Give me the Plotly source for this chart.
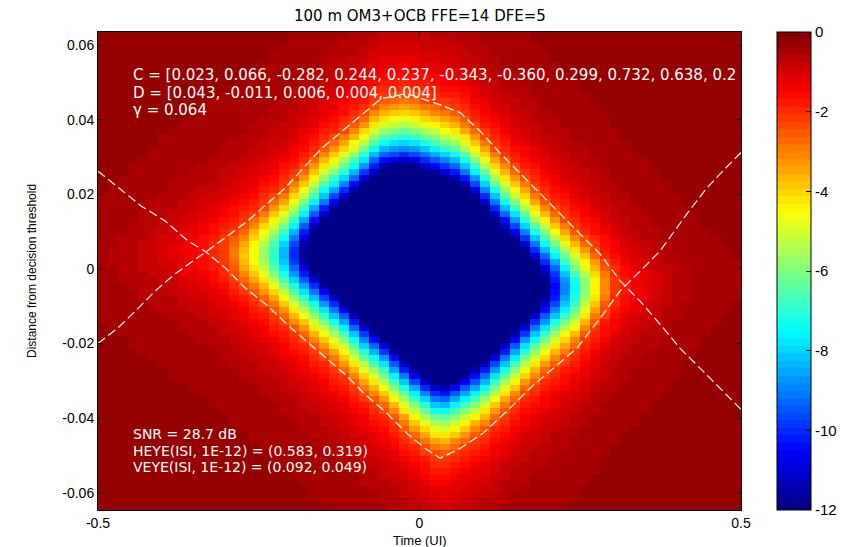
import math
import numpy as np
import plotly.graph_objects as go

# ---- data ----
# upper eye boundary (ISI-only), dashed white curve
u_t = [-0.5, -0.469, -0.442, -0.411, -0.380, -0.352, -0.324, -0.267, -0.209, -0.153, -0.100, -0.060,
       -0.020, 0.027, 0.063, 0.094, 0.125, 0.156, 0.183, 0.214, 0.245, 0.281, 0.312, 0.343, 0.374,
       0.405, 0.441, 0.467, 0.5]
u_y = [-0.0200, -0.0158, -0.0113, -0.0059, -0.0013, 0.0021, 0.0056, 0.0129, 0.0217, 0.0322, 0.0397, 0.0456,
       0.0470, 0.0443, 0.0419, 0.0370, 0.0311, 0.0258, 0.0209, 0.0156, 0.0102, 0.0040, -0.0032, -0.0086, -0.0148,
       -0.0212, -0.0274, -0.0319, -0.0376]
# lower eye boundary (ISI-only), dashed white curve
l_t = [-0.5, -0.453, -0.433, -0.396, -0.360, -0.334, -0.302, -0.271, -0.236, -0.200, -0.153, -0.116, -0.085,
       -0.054, -0.018, 0.009, 0.032, 0.063, 0.099, 0.136, 0.172, 0.208, 0.245, 0.281, 0.312, 0.354, 0.374,
       0.416, 0.447, 0.472, 0.5]
l_y = [0.0262, 0.0196, 0.0169, 0.0129, 0.0075, 0.0048, 0.0003, -0.0051, -0.0099, -0.0158, -0.0228, -0.0282, -0.0336,
       -0.0381, -0.0443, -0.0481, -0.0507, -0.0481, -0.0440, -0.0381, -0.0319, -0.0266, -0.0212, -0.0132, -0.0059,
       0.0013, 0.0048, 0.0148, 0.0217, 0.0263, 0.0312]

noise_sigma = 0.0043      # vertical noise spread inside the eye
edge_offset = 2.6         # Q-argument on the ISI boundary
outer_scale = 0.012       # decay length outside the boundary
tip_soft = 0.006          # soft-min width joining upper/lower boundaries
log_ber_floor = -12
log_ber_ceiling = 0

x_ticks = [-0.5, 0, 0.5]
x_ticktext = ["-0.5", "0", "0.5"]
y_ticks = [-0.06, -0.04, -0.02, 0, 0.02, 0.04, 0.06]
y_ticktext = ["-0.06", "-0.04", "-0.02", "0", "0.02", "0.04", "0.06"]
cb_ticks = [0, -2, -4, -6, -8, -10, -12]
cb_ticktext = ["0", "-2", "-4", "-6", "-8", "-10", "-12"]

title_text = "100 m OM3+OCB FFE=14 DFE=5"
top_lines = ["C = [0.023, 0.066, -0.282, 0.244, 0.237, -0.343, -0.360, 0.299, 0.732, 0.638, 0.2",
             "D = [0.043, -0.011, 0.006, 0.004, 0.004]",
             "\u03b3 = 0.064"]
bottom_lines = ["SNR = 28.7 dB",
                "HEYE(ISI, 1E-12) = (0.583, 0.319)",
                "VEYE(ISI, 1E-12) = (0.092, 0.049)"]

# ---- statistical eye field from the boundaries ----
y_lo, y_hi = -0.0646, 0.0635
nx, ny = 64, 80
tc = -0.5 + (np.arange(nx) + 0.5) / nx
yc = y_lo + (np.arange(ny) + 0.5) * (y_hi - y_lo) / ny
T, Y = np.meshgrid(tc, yc)

erfc_v = np.vectorize(math.erfc)


def log_tail(d):
    x = edge_offset + np.maximum(d, 0) / noise_sigma
    q = np.maximum(0.5 * erfc_v(x / math.sqrt(2)), 1e-300)
    inside = np.log10(q)
    g0 = math.log10(0.5 * math.erfc(edge_offset / math.sqrt(2)))
    outside = g0 + (-0.3 - g0) * (1 - np.exp(np.minimum(d, 0) / outer_scale))
    return np.where(d >= 0, inside, outside)


dU = np.interp(T, u_t, u_y) - Y
dL = Y - np.interp(T, l_t, l_y)
d_eff = -tip_soft * np.logaddexp(-dU / tip_soft, -dL / tip_soft)
Z = np.clip(log_tail(d_eff), log_ber_floor, log_ber_ceiling)


# discrete 64-level jet colormap
def jet(v):
    r = min(max(1.5 - abs(4 * v - 3), 0), 1)
    g = min(max(1.5 - abs(4 * v - 2), 0), 1)
    b = min(max(1.5 - abs(4 * v - 1), 0), 1)
    return "rgb(%d,%d,%d)" % (round(r * 255), round(g * 255), round(b * 255))


nlev = 64
cscale = []
for i in range(nlev):
    c = jet((i + 0.5) / nlev)
    cscale.append([i / nlev, c])
    cscale.append([(i + 1) / nlev, c])

FONT = "Liberation Sans, Arial, Helvetica, sans-serif"
WFONT = "DejaVu Sans, Verdana, sans-serif"

fig = go.Figure()
fig.add_trace(go.Heatmap(
    x=tc, y=yc, z=Z, zmin=log_ber_floor, zmax=log_ber_ceiling, colorscale=cscale, zsmooth=False,
    showscale=True, hoverinfo="skip",
    colorbar=dict(x=(777 - 98) / 643, xanchor="left", xref="paper", y=0.5, yanchor="middle", len=1.0,
                  lenmode="fraction", thickness=34, thicknessmode="pixels", outlinewidth=1, outlinecolor="black",
                  tickvals=cb_ticks, ticktext=cb_ticktext, ticks="inside", ticklen=5, tickcolor="black",
                  tickfont=dict(family=FONT, size=15, color="black"), xpad=0, ypad=0),
))
for tt, yy in ((u_t, u_y), (l_t, l_y)):
    fig.add_trace(go.Scatter(x=tt, y=yy, mode="lines", line=dict(color="white", width=1.2, dash="9px,4px"),
                             hoverinfo="skip", showlegend=False))

annos = []
for i, s in enumerate(top_lines):
    annos.append(dict(text=s, x=(131 - 98) / 643, y=(510 - (75 + 17.5 * i)) / 478, xref="paper", yref="paper",
                      xanchor="left", yanchor="middle", showarrow=False,
                      font=dict(family=WFONT, size=15, color="white")))
for i, s in enumerate(bottom_lines):
    annos.append(dict(text=s, x=(131 - 98) / 643, y=(510 - (434 + 16.5 * i)) / 478, xref="paper", yref="paper",
                      xanchor="left", yanchor="middle", showarrow=False,
                      font=dict(family=WFONT, size=14, color="white")))
annos.append(dict(text="Time (UI)", x=0.5, y=-30 / 478, xref="paper", yref="paper", xanchor="center",
                  yanchor="middle", showarrow=False, font=dict(family=FONT, size=13, color="black")))
annos.append(dict(text="Distance from decision threshold", x=(32 - 98) / 643, y=0.5, xref="paper", yref="paper",
                  xanchor="center", yanchor="middle", textangle=-90, showarrow=False,
                  font=dict(family=FONT, size=12, color="black")))
annos.append(dict(text=title_text, x=0.5, y=(510 - 16) / 478, xref="paper", yref="paper", xanchor="center",
                  yanchor="middle", showarrow=False, font=dict(family=WFONT, size=15, color="black")))

# the page body adds an 8px offset, so the figure is 8px smaller than the window
fig.update_layout(
    width=842, height=539, margin=dict(l=90, r=109, t=24, b=37, autoexpand=False),
    paper_bgcolor="white", plot_bgcolor="white", showlegend=False,
    annotations=annos,
    xaxis=dict(range=[-0.5, 0.5], tickvals=x_ticks, ticktext=x_ticktext, ticks="inside", ticklen=5,
               tickcolor="black", showline=True, linecolor="black", linewidth=1, mirror="ticks",
               showgrid=False, zeroline=False, tickfont=dict(family=FONT, size=14, color="black")),
    yaxis=dict(range=[y_lo, y_hi], tickvals=y_ticks, ticktext=y_ticktext, ticks="inside", ticklen=5,
               tickcolor="black", showline=True, linecolor="black", linewidth=1, mirror="ticks",
               showgrid=False, zeroline=False, tickfont=dict(family=FONT, size=14, color="black")),
)

fig.write_html("out.html")
